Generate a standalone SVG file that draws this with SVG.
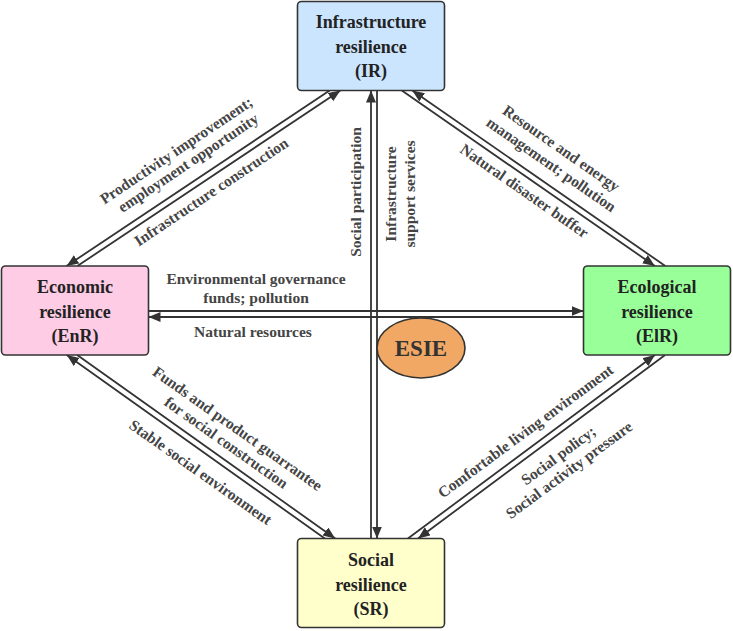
<svg xmlns="http://www.w3.org/2000/svg" width="733" height="631" viewBox="0 0 733 631">
<defs>
<marker id="ah" markerUnits="userSpaceOnUse" markerWidth="13" markerHeight="11" refX="12" refY="5" orient="auto">
<path d="M0,0 L12,5 L0,10 z" fill="#333"/>
</marker>
<style>
.box{stroke:#333;stroke-width:1.6}
.nt{font-family:'Liberation Serif','Times New Roman',serif;font-weight:bold;font-size:18px;fill:#222;text-anchor:middle}
.lb{font-family:'Liberation Serif','Times New Roman',serif;font-weight:bold;font-size:15.5px;fill:#444;text-anchor:middle}
.es{font-family:'Liberation Serif','Times New Roman',serif;font-weight:bold;font-size:23px;fill:#333;text-anchor:middle}
.ln{stroke:#333;stroke-width:1.8;fill:none;marker-end:url(#ah)}
</style>
</defs>
<rect width="733" height="631" fill="#fff"/>
<g id="connectors">
<line class="ln" x1="148.5" y1="311" x2="583.5" y2="311"/>
<line class="ln" x1="583.5" y1="317" x2="148.5" y2="317"/>
<line class="ln" x1="371" y1="538.5" x2="371" y2="90.5"/>
<line class="ln" x1="377" y1="90.5" x2="377" y2="538.5"/>
<line class="ln" x1="77.4" y1="266" x2="340.4" y2="90.5"/>
<line class="ln" x1="329.6" y1="90.5" x2="66.6" y2="266"/>
<line class="ln" x1="665.3" y1="266" x2="412.3" y2="90.5"/>
<line class="ln" x1="401.8" y1="90.5" x2="654.8" y2="266"/>
<line class="ln" x1="77.2" y1="355" x2="335.2" y2="538.5"/>
<line class="ln" x1="324.8" y1="538.5" x2="66.8" y2="355"/>
<line class="ln" x1="665.1" y1="355" x2="418.1" y2="538.5"/>
<line class="ln" x1="407.9" y1="538.5" x2="654.9" y2="355"/>
</g>
<g id="labels">
<text class="lb" x="256" y="284">Environmental governance</text>
<text class="lb" x="256" y="303">funds; pollution</text>
<text class="lb" x="253" y="337">Natural resources</text>
<text class="lb" transform="translate(360.5,192) rotate(-90)">Social participation</text>
<g transform="translate(395.5,194) rotate(-90)">
<text class="lb" x="0" y="0">Infrastructure</text>
<text class="lb" x="0" y="19">support services</text>
</g>
<g transform="translate(200,180.4) rotate(-33.8)">
<text class="lb" x="-3" y="-33">Productivity improvement;</text>
<text class="lb" x="0" y="-16">employment opportunity</text>
<text class="lb" x="3" y="21">Infrastructure construction</text>
</g>
<g transform="translate(536.7,180.2) rotate(34.8)">
<text class="lb" x="2" y="-35">Resource and energy</text>
<text class="lb" x="3" y="-16">management; pollution</text>
<text class="lb" x="-4" y="21">Natural disaster buffer</text>
</g>
<g transform="translate(215,457) rotate(35.2)">
<text class="lb" x="2" y="-31">Funds and product guarrantee</text>
<text class="lb" x="1" y="-13">for social construction</text>
<text class="lb" x="-3" y="26">Stable social environment</text>
</g>
<g transform="translate(541.8,443.1) rotate(-36.4)">
<text class="lb" x="-6" y="-14">Comfortable living environment</text>
<text class="lb" x="6" y="25">Social policy;</text>
<text class="lb" x="6" y="43">Social activity pressure</text>
</g>
</g>
<g id="IR">
<rect class="box" x="297.5" y="1.5" width="147" height="89" rx="4" fill="#cce5ff"/>
<text class="nt" x="371" y="28">Infrastructure</text>
<text class="nt" x="371" y="53">resilience</text>
<text class="nt" x="371" y="77">(IR)</text>
</g>
<g id="EnR">
<rect class="box" x="1.5" y="266" width="147" height="89" rx="4" fill="#ffcce6"/>
<text class="nt" x="75" y="293">Economic</text>
<text class="nt" x="75" y="318">resilience</text>
<text class="nt" x="75" y="342">(EnR)</text>
</g>
<g id="ElR">
<rect class="box" x="583.5" y="266" width="147" height="89" rx="4" fill="#99ff99"/>
<text class="nt" x="657" y="293">Ecological</text>
<text class="nt" x="657" y="318">resilience</text>
<text class="nt" x="657" y="342">(ElR)</text>
</g>
<g id="SR">
<rect class="box" x="297.5" y="538.5" width="147" height="89" rx="4" fill="#ffffcc"/>
<text class="nt" x="371" y="566">Social</text>
<text class="nt" x="371" y="591">resilience</text>
<text class="nt" x="371" y="615">(SR)</text>
</g>
<g id="ESIE">
<ellipse cx="421" cy="348" rx="44" ry="30" fill="#f0a864" stroke="#333" stroke-width="1.6"/>
<text class="es" x="421" y="356">ESIE</text>
</g>
</svg>
